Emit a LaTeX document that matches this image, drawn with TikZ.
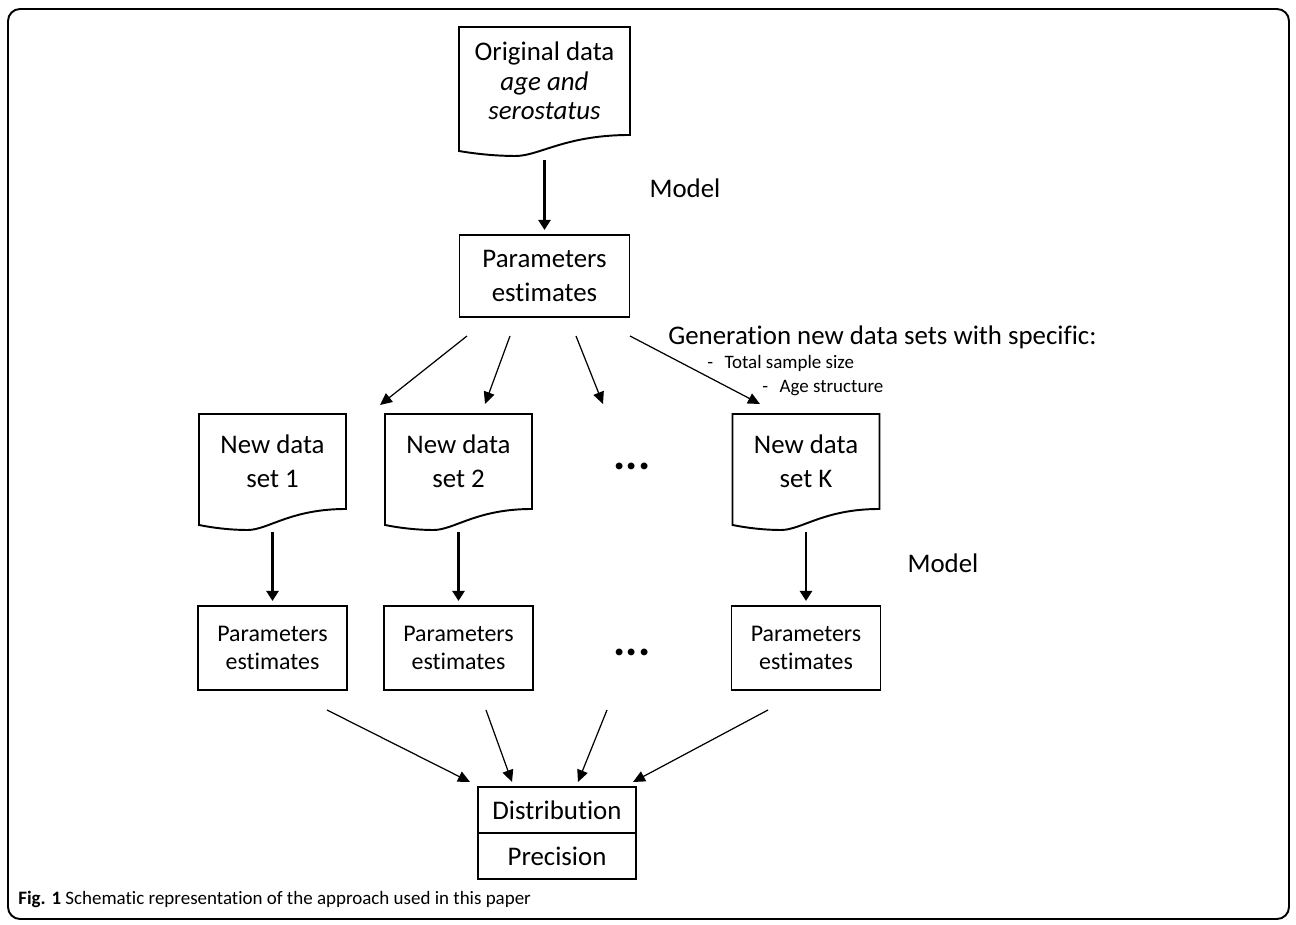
\documentclass[tikz,border=0pt]{standalone}
\usepackage{fontspec}
\setmainfont{Carlito}[Ligatures={NoCommon}]
\usepackage{tikz}
\usetikzlibrary{shapes.geometric, arrows.meta, positioning, calc}
\tikzstyle{datadoc} = [rectangle, minimum width=2.94cm, minimum height=1.9cm, inner sep=0pt, outer sep=0pt, align=center, font=\fontsize{15.3}{19.3}\selectfont]
\tikzstyle{process} = [rectangle, minimum width=3.4cm, minimum height=1.64cm, inner sep=0pt, outer sep=0pt, align=center, draw=black, line width=1.1pt, font=\fontsize{15.3}{19.3}\selectfont]
\tikzstyle{smallprocess} = [process, minimum width=2.98cm, minimum height=1.68cm, font=\fontsize{13.6}{16.4}\selectfont]
\tikzstyle{label} = [inner sep=0pt, font=\fontsize{15.3}{18}\selectfont]
\tikzstyle{sublabel} = [inner sep=0pt, anchor=base west, font=\fontsize{10.8}{12}\selectfont]
\tikzstyle{docline} = [line width=1.1pt, line join=miter]
\tikzstyle{arrow} = [line width=1.7pt, -{Triangle[length=0.2cm,width=0.24cm]}, shorten >=0.1cm]
\tikzstyle{thinarrow} = [line width=0.7pt, -{Triangle[length=0.24cm,width=0.22cm]}]
\newcommand{\docoutline}[1]{%
  \draw[docline] ($(#1.south west)+(0,16)$) -- (#1.north west) -- (#1.north east) -- (#1.south east)
    .. controls ($(#1.south west)!0.62!(#1.south east)$) and ($(#1.south west)!0.47!(#1.south east)+(0,21)$) .. ($(#1.south west)!0.33!(#1.south east)+(0,21)$)
    .. controls ($(#1.south west)!0.22!(#1.south east)+(0,21)$) and ($(#1.south west)!0.1!(#1.south east)+(0,19)$) .. cycle;}

\begin{document}
\begin{tikzpicture}[x=0.02cm, y=-0.02cm, node distance=2cm]
\useasboundingbox (0,0) rectangle (1296,925);
\draw [line width=1.1pt, rounded corners=0.24cm] (8,9) rectangle (1289,919);

\node (orig) [datadoc, minimum width=3.42cm, minimum height=2.16cm, font=\fontsize{15.3}{16.7}\selectfont] at (544.5,81) {Original data\\\textit{age and}\\\textit{serostatus}};
\docoutline{orig}
\node (pe) [process, below=2cm of orig] {Parameters\\estimates};
\node (model1) [label] at (685,188) {Model};
\draw [arrow] ([yshift=-0.5cm]orig.south) -- (pe);

\node (gen) [label, anchor=base west] at (668,345) {Generation new data sets with specific:};
\node (crit1) [sublabel] at (707,369) {-\hspace{0.6em}Total sample size};
\node (crit2) [sublabel] at (762,393) {-\hspace{0.6em}Age structure};

\node (doc1) [datadoc] at (272.5,461.5) {New data\\set 1};
\node (doc2) [datadoc] at (458.5,461.5) {New data\\set 2};
\node (dots1) at (632,466) {\fontsize{26}{26}\selectfont\textbf{...}};
\node (docK) [datadoc] at (806,461.5) {New data\\set K};
\docoutline{doc1}
\docoutline{doc2}
\docoutline{docK}

\coordinate (g1) at (467,336);
\coordinate (g2) at (510,336);
\coordinate (g3) at (576,336);
\coordinate (g4) at (630,336);
\coordinate (n1) at (380,405);
\coordinate (n2) at (485,404);
\coordinate (n3) at (603,404);
\coordinate (n4) at (760,404);
\draw [thinarrow] (g1) -- (n1);
\draw [thinarrow] (g2) -- (n2);
\draw [thinarrow] (g3) -- (n3);
\draw [thinarrow] (g4) -- (n4);

\node (pe1) [smallprocess, below=1.94cm of doc1] {Parameters\\estimates};
\node (pe2) [smallprocess, below=1.94cm of doc2] {Parameters\\estimates};
\node (dots2) at (632,652) {\fontsize{26}{26}\selectfont\textbf{...}};
\node (peK) [smallprocess, below=1.94cm of docK] {Parameters\\estimates};
\node (model2) [label] at (943,563) {Model};
\draw [arrow] ([yshift=-0.46cm]doc1.south) -- (pe1);
\draw [arrow] ([yshift=-0.46cm]doc2.south) -- (pe2);
\draw [arrow] ([yshift=-0.46cm]docK.south) -- (peK);

\node (dist) [process, minimum width=3.16cm, minimum height=0.92cm] at (557,810) {Distribution};
\node (prec) [process, minimum width=3.16cm, minimum height=0.92cm, below=0pt of dist] {Precision};

\coordinate (h1) at (327,710);
\coordinate (h2) at (486,710);
\coordinate (h3) at (607,710);
\coordinate (h4) at (768,710);
\coordinate (d1) at (470,782);
\coordinate (d2) at (512,782);
\coordinate (d3) at (578,782);
\coordinate (d4) at (633,782);
\draw [thinarrow] (h1) -- (d1);
\draw [thinarrow] (h2) -- (d2);
\draw [thinarrow] (h3) -- (d3);
\draw [thinarrow] (h4) -- (d4);

\node (caption) [anchor=base west, inner sep=0pt, font=\fontsize{10.8}{12}\selectfont] at (18,905) {\textbf{Fig. 1} Schematic representation of the approach used in this paper};
\end{tikzpicture}
\end{document}
